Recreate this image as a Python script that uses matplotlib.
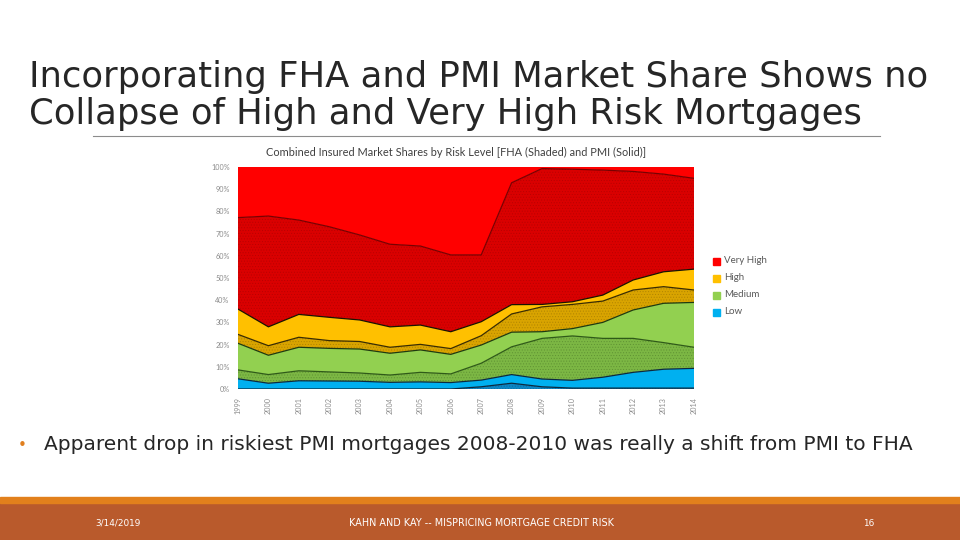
import numpy as np
import matplotlib
matplotlib.use('Agg')
import matplotlib.pyplot as plt
from matplotlib.patches import Rectangle

years = list(range(1999, 2015))

# market shares (%) per layer, bottom to top; FHA = shaded, PMI = solid
fha_low = [0, 0, 0, 0, 0, 0, 0, 0, 1.0, 2.6, 1.0, 0.4, 0.4, 0.4, 0.4, 0.4]
pmi_low = [4.6, 2.6, 3.7, 3.6, 3.5, 3.0, 3.2, 2.9, 3.0, 3.9, 3.5, 3.5, 4.9, 7.1, 8.5, 8.9]
fha_medium = [4.0, 3.9, 4.5, 4.1, 3.7, 3.3, 4.3, 3.9, 7.6, 12.5, 18.3, 20.0, 17.5, 15.3, 12.0, 9.5]
pmi_medium = [12.0, 8.7, 10.6, 10.6, 10.8, 9.8, 10.1, 8.8, 8.2, 6.6, 3.0, 3.3, 7.2, 12.8, 17.7, 20.2]
fha_high = [4.0, 4.3, 4.5, 3.5, 3.4, 2.7, 2.5, 2.6, 4.2, 8.2, 11.2, 10.9, 9.6, 9.0, 7.5, 5.6]
pmi_high = [11.4, 8.5, 10.3, 10.5, 9.7, 9.2, 8.7, 7.6, 6.3, 4.2, 1.1, 1.2, 2.7, 4.5, 6.7, 9.4]
fha_very_high = [41.2, 49.9, 42.5, 40.8, 38.3, 37.2, 35.6, 34.6, 30.1, 54.9, 61.2, 59.7, 56.3, 48.9, 44.0, 40.9]
pmi_very_high = [22.8, 22.1, 23.9, 26.9, 30.6, 34.8, 35.6, 39.6, 39.6, 7.1, 0.7, 1.0, 1.4, 2.0, 3.2, 5.1]

legend_labels = ['Very High', 'High', 'Medium', 'Low']
yticks = list(range(0, 101, 10))

layers = [fha_low, pmi_low, fha_medium, pmi_medium, fha_high, pmi_high, fha_very_high, pmi_very_high]
shaded = [True, False, True, False, True, False, True, False]
face = ['#0C86C4', '#00B0F0', '#7CB744', '#92D050', '#D9A400', '#FFC000', '#DA0000', '#FF0000']
hatchc = ['#0A6A9E', None, '#5F9233', None, '#B08400', None, '#B80000', None]
linec = ['#0B2A40', '#0B2A40', '#2F5A18', '#1E3A10', '#3A2C00', '#1A1400', '#7A0000', '#FF0000']

plt.rcParams['hatch.linewidth'] = 0.4

fig = plt.figure(figsize=(9.6, 5.4), dpi=100)

# slide title
fig.text(29 / 960, 1 - 77 / 540, 'Incorporating FHA and PMI Market Share Shows no',
         fontsize=25.5, color='#262626', va='center', ha='left')
fig.text(29 / 960, 1 - 114 / 540, 'Collapse of High and Very High Risk Mortgages',
         fontsize=25.5, color='#262626', va='center', ha='left')
fig.add_artist(plt.Line2D([93 / 960, 880 / 960], [1 - 136 / 540, 1 - 136 / 540],
                          color='#8C8C8C', lw=0.8))

ax = fig.add_axes([238 / 960, 1 - 389 / 540, (694 - 238) / 960, (389 - 167) / 540])
data = np.array(layers)
tops = np.cumsum(data, axis=0)
bottom = np.zeros(len(years))
for i in range(len(layers)):
    if shaded[i]:
        ax.fill_between(years, bottom, tops[i], facecolor=face[i], edgecolor=hatchc[i],
                        hatch='......', linewidth=0)
    else:
        ax.fill_between(years, bottom, tops[i], facecolor=face[i], linewidth=0)
    if i < len(layers) - 1:
        ax.plot(years, tops[i], color=linec[i], lw=0.9)
    bottom = tops[i]

ax.set_xlim(1999, 2014)
ax.set_ylim(0, 100)
for s in ax.spines.values():
    s.set_visible(False)
ax.set_yticks(yticks)
ax.set_yticklabels([f'{t}%' for t in yticks], fontsize=5.2, color='#8C8C8C', family='Lato')
ax.set_xticks(years)
ax.set_xticklabels([str(y) for y in years], rotation=90, fontsize=5.2, color='#8C8C8C', family='Lato')
ax.tick_params(length=0, pad=6)
fig.text(456 / 960, 1 - 152 / 540,
         'Combined Insured Market Shares by Risk Level [FHA (Shaded) and PMI (Solid)]',
         fontsize=7.9, color='#404040', family='Lato', ha='center', va='center')

# legend
leg_colors = ['#FF0000', '#FFC000', '#92D050', '#00B0F0']
for k, lab in enumerate(legend_labels):
    yy = 1 - (261 + 17 * k) / 540
    fig.add_artist(Rectangle((713 / 960, yy - 3.5 / 540), 7 / 960, 7 / 540, color=leg_colors[k]))
    fig.text(724 / 960, yy + 0.5 / 540, lab, fontsize=7, color='#595959', va='center', family='Lato')

# bullet
fig.text(18 / 960, 1 - 445 / 540, '•', fontsize=11, color='#E07F1F', va='center')
fig.text(44 / 960, 1 - 445 / 540,
         'Apparent drop in riskiest PMI mortgages 2008-2010 was really a shift from PMI to FHA',
         fontsize=14.5, color='#262626', va='center')

# footer
fig.add_artist(Rectangle((0, 0), 1, 37 / 540, color='#B95A2C'))
fig.add_artist(Rectangle((0, 37 / 540), 1, 6 / 540, color='#E2801C'))
fig.text(95 / 960, 1 - 523 / 540, '3/14/2019', fontsize=6.4, color='white', va='center')
fig.text(481 / 960, 1 - 523 / 540, 'KAHN AND KAY -- MISPRICING MORTGAGE CREDIT RISK',
         fontsize=6.9, color='white', va='center', ha='center')
fig.text(869 / 960, 1 - 523 / 540, '16', fontsize=6.4, color='white', va='center', ha='center')

fig.savefig('out.png', dpi=100)
